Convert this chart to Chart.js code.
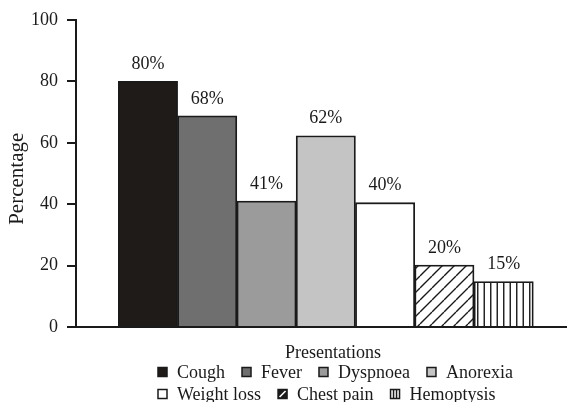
<!DOCTYPE html>
<html>
<head>
<meta charset="utf-8">
<script src="https://cdn.jsdelivr.net/npm/chart.js@4.4.0/dist/chart.umd.min.js"></script>
<style>
  body { margin: 0; background: #fff; }
  canvas { display: block; }
</style>
</head>
<body>
<canvas id="chart" width="567" height="402"></canvas>
<script>
const presentations = ['Cough', 'Fever', 'Dyspnoea', 'Anorexia', 'Weight loss', 'Chest pain', 'Hemoptysis'];
const percentages = [80, 68.8, 41, 62.3, 40.5, 20.2, 14.8];
const barLabels = ['80%', '68%', '41%', '62%', '40%', '20%', '15%'];
const yTicks = [0, 20, 40, 60, 80, 100];
const legendRows = [presentations.slice(0, 4), presentations.slice(4)];

const ink = '#1a1a1a';
const serif = '"Liberation Serif", "Times New Roman", serif';
Chart.defaults.font.family = serif;
Chart.defaults.color = ink;

function makePattern(kind) {
    let c = document.createElement('canvas');
    let size = kind === 'diag' ? 12 : 13;
    c.width = size;
    c.height = size;
    let g = c.getContext('2d');
    g.fillStyle = '#fff';
    g.fillRect(0, 0, size, size);
    g.strokeStyle = ink;
    g.lineWidth = 1.4;
    g.beginPath();
    if (kind === 'diag') {
        for (let o = -size; o <= size; o += size) {
            g.moveTo(o, size);
            g.lineTo(o + size, 0);
        }
    } else {
        g.moveTo(3.25, 0); g.lineTo(3.25, size);
        g.moveTo(9.75, 0); g.lineTo(9.75, size);
    }
    g.stroke();
    return g.createPattern(c, 'repeat');
}

const fills = ['#1f1b18', '#6f6f6f', '#9b9b9b', '#c4c4c4', '#ffffff', makePattern('diag'), makePattern('vert')];

function drawLegendBox(ctx, x, y, i) {
    let s = 9;
    ctx.save();
    ctx.lineWidth = 1.5;
    ctx.strokeStyle = ink;
    if (i === 5) {
        ctx.fillStyle = ink;
        ctx.fillRect(x, y, s, s);
        ctx.strokeStyle = '#fff';
        ctx.lineWidth = 1.6;
        ctx.beginPath();
        ctx.moveTo(x + 1.5, y + s - 1.5);
        ctx.lineTo(x + s - 1.5, y + 1.5);
        ctx.stroke();
        ctx.strokeStyle = ink;
        ctx.lineWidth = 1.5;
        ctx.strokeRect(x, y, s, s);
    } else if (i === 6) {
        ctx.fillStyle = '#fff';
        ctx.fillRect(x, y, s, s);
        ctx.beginPath();
        ctx.moveTo(x + 3, y); ctx.lineTo(x + 3, y + s);
        ctx.moveTo(x + 6, y); ctx.lineTo(x + 6, y + s);
        ctx.stroke();
        ctx.strokeRect(x, y, s, s);
    } else {
        ctx.fillStyle = fills[i];
        ctx.fillRect(x, y, s, s);
        ctx.strokeRect(x, y, s, s);
    }
    ctx.restore();
}

const valueLabels = {
    id: 'valueLabels',
    afterDatasetsDraw(chart) {
        let ctx = chart.ctx;
        let meta = chart.getDatasetMeta(0);
        ctx.save();
        ctx.font = '18px ' + serif;
        ctx.fillStyle = ink;
        ctx.textAlign = 'center';
        ctx.textBaseline = 'middle';
        meta.data.forEach((bar, i) => {
            ctx.fillText(barLabels[i], bar.x, bar.y - 17);
        });
        ctx.restore();
    }
};

const rowLegend = {
    id: 'rowLegend',
    afterDraw(chart) {
        let ctx = chart.ctx;
        ctx.save();
        ctx.font = '18px ' + serif;
        ctx.fillStyle = ink;
        ctx.textBaseline = 'alphabetic';
        ctx.textAlign = 'center';
        ctx.fillText('Presentations', 333, 358);
        ctx.textAlign = 'left';
        legendRows.forEach((row, r) => {
            let x = 158;
            let y = 372 + r * 22;
            row.forEach(name => {
                let i = presentations.indexOf(name);
                drawLegendBox(ctx, x, y - 4.5, i);
                ctx.fillStyle = ink;
                ctx.fillText(name, x + 19, y + 6);
                x += 19 + ctx.measureText(name).width + 17;
            });
        });
        ctx.restore();
    }
};

new Chart(document.getElementById('chart'), {
    type: 'bar',
    data: {
        datasets: [{
            data: percentages.map((v, i) => ({ x: i, y: v })),
            backgroundColor: fills,
            borderColor: ink,
            borderWidth: 1.8,
            categoryPercentage: 1,
            barPercentage: 1
        }]
    },
    options: {
        responsive: false,
        animation: false,
        layout: { padding: { top: 20, left: 0, right: 0, bottom: 0 } },
        plugins: {
            legend: { display: false },
            tooltip: { enabled: false }
        },
        scales: {
            x: {
                type: 'linear',
                min: -1.213,
                max: 7.068,
                afterBuildTicks: s => { s.ticks = []; },
                afterFit: s => { s.height = 75; },
                grid: { display: false, drawTicks: false },
                ticks: { display: false },
                border: { color: ink, width: 2 }
            },
            y: {
                min: 0,
                max: 100,
                afterBuildTicks: s => { s.ticks = yTicks.map(v => ({ value: v })); },
                afterFit: s => { s.width = 76; },
                grid: { drawOnChartArea: false, tickLength: 9, color: ink, lineWidth: 2 },
                border: { color: ink, width: 2 },
                ticks: { color: ink, padding: 9, font: { size: 18 } },
                // trailing spaces nudge the rotated title down a little
                title: { display: true, text: 'Percentage\u00a0\u00a0', color: ink, font: { size: 21 }, padding: { top: 5, bottom: 0 } }
            }
        }
    },
    plugins: [valueLabels, rowLegend]
});
</script>
</body>
</html>
